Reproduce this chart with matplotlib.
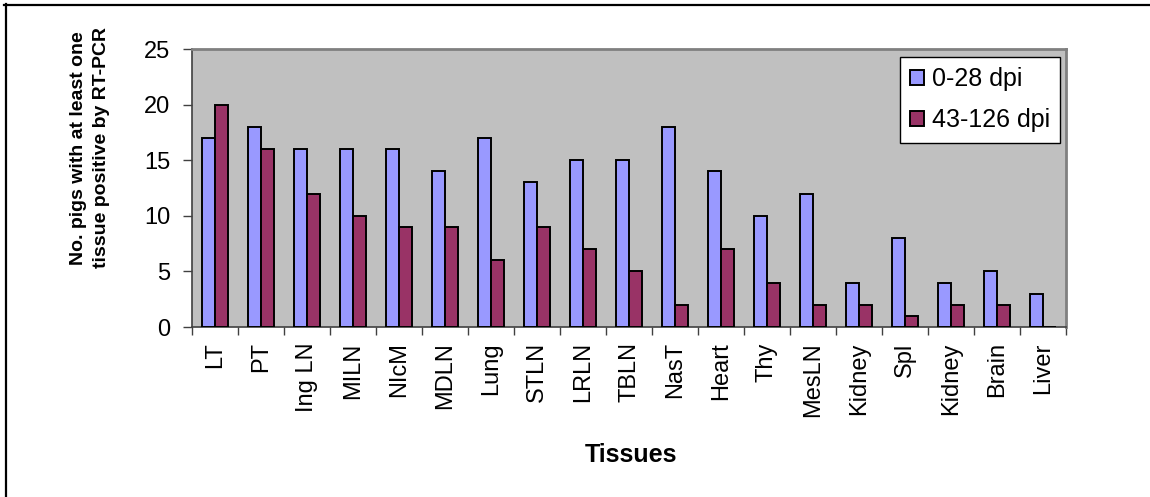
import numpy as np
import matplotlib
matplotlib.use("Agg")
import matplotlib.pyplot as plt
from matplotlib.lines import Line2D

plt.rcParams['font.family'] = ['Liberation Sans', 'DejaVu Sans']

tissues = ["LT", "PT", "Ing LN", "MILN", "NIcM", "MDLN", "Lung", "STLN", "LRLN",
           "TBLN", "NasT", "Heart", "Thy", "MesLN", "Kidney", "Spl", "Kidney",
           "Brain", "Liver"]
early = [17, 18, 16, 16, 16, 14, 17, 13, 15, 15, 18, 14, 10, 12, 4, 8, 4, 5, 3]
late = [20, 16, 12, 10, 9, 9, 6, 9, 7, 5, 2, 7, 4, 2, 2, 1, 2, 2, 0]
series_names = ["0-28 dpi", "43-126 dpi"]
y_ticks = [0, 5, 10, 15, 20, 25]

W, H = 1150, 497
fig = plt.figure(figsize=(W / 100, H / 100), dpi=100)
fig.patch.set_facecolor("white")

ax = fig.add_axes([192 / W, 1 - 327 / H, (1066 - 192) / W, (327 - 49) / H])
ax.set_facecolor("#C0C0C0")

x = np.arange(len(tissues))
bw = 0.285
ax.bar(x - bw / 2, early, bw, color="#9999FF", edgecolor="black", linewidth=1.4,
       label=series_names[0], zorder=3)
ax.bar(x + bw / 2, late, bw, color="#993366", edgecolor="black", linewidth=1.4,
       label=series_names[1], zorder=3)

ax.set_xlim(-0.5, len(tissues) - 0.5)
ax.set_ylim(0, 25)
ax.set_yticks(y_ticks)
ax.tick_params(axis="y", length=6.5, width=1, color="#404040", labelsize=17, pad=9)

ax.set_xticks(x, tissues, rotation=90)
ax.tick_params(axis="x", which="major", length=0, labelsize=17, pad=11)
ax.set_xticks(np.arange(-0.5, len(tissues), 1), minor=True)
ax.tick_params(axis="x", which="minor", length=6, width=1, color="#404040")

for side in ("left", "bottom"):
    ax.spines[side].set_color("#404040")
    ax.spines[side].set_linewidth(1.2)
for side in ("top", "right"):
    ax.spines[side].set_color("#808080")
    ax.spines[side].set_linewidth(2)

leg = ax.legend(loc="upper right", bbox_to_anchor=(1060 / W, 1 - 57 / H),
                bbox_transform=fig.transFigure, borderaxespad=0, fontsize=18,
                frameon=True, fancybox=False, edgecolor="black", facecolor="white",
                framealpha=1, handlelength=0.56, handleheight=0.56,
                handletextpad=0.32, labelspacing=0.7, borderpad=0.4)
leg.get_frame().set_linewidth(1.0)

fig.text(90 / W, 1 - 148 / H, "No. pigs with at least one\ntissue positive by RT-PCR",
         rotation=90, ha="center", va="center", fontsize=14, fontweight="bold",
         multialignment="center", linespacing=1.45)
fig.text(631 / W, 1 - 455 / H, "Tissues", ha="center", va="center",
         fontsize=18, fontweight="bold")

# outer frame (top and left edges)
fig.add_artist(Line2D([4 / W, 1], [1 - 5 / H, 1 - 5 / H], color="black",
                      linewidth=1.6, transform=fig.transFigure))
fig.add_artist(Line2D([5.5 / W, 5.5 / W], [0, 1 - 4 / H], color="black",
                      linewidth=1.6, transform=fig.transFigure))

fig.savefig("out.png", dpi=100, facecolor="white")
